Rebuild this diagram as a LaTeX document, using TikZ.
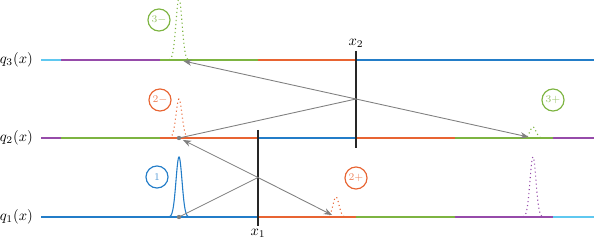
\documentclass[tikz,border=0pt]{standalone}
\usepackage{amsmath,amssymb}
\usepackage{xcolor}
\usepackage{tikz}
\usetikzlibrary{arrows.meta,calc}
\definecolor{wcyan}{RGB}{95,200,240}
\definecolor{wpurple}{RGB}{150,75,170}
\definecolor{wgreen}{RGB}{125,180,65}
\definecolor{worange}{RGB}{232,100,50}
\definecolor{wblue}{RGB}{35,125,200}

\begin{document}
\begin{tikzpicture}[x=0.024cm,y=-0.024cm,>=Stealth,
  seg/.style={line width=1pt},
  bar/.style={line width=2pt,black!85},
  ray/.style={gray,line width=0.6pt,shorten >=3pt},
  tag/.style={circle,draw,thick,minimum size=0.53cm,inner sep=0pt,font=\scriptsize},
  dotm/.style={circle,fill=gray,inner sep=0pt,minimum size=3pt}]
\clip (0,0) rectangle (594,247);
% the three strings
\node[anchor=east] (q3) at (38,60) {$q_3(x)$};
\node[anchor=east] (q2) at (38,138) {$q_2(x)$};
\node[anchor=east] (q1) at (38,217) {$q_1(x)$};
\foreach \a/\b/\c in {41/61/wcyan,61/160/wpurple,160/258/wgreen,258/356/worange,356/594/wblue}
  \draw[seg,\c] (\a,60) -- (\b,60);
\foreach \a/\b/\c in {41/61/wpurple,61/160/wgreen,160/258/worange,258/356/wblue,356/455/worange,455/553/wgreen,553/594/wpurple}
  \draw[seg,\c] (\a,138) -- (\b,138);
\foreach \a/\b/\c in {41/258/wblue,258/356/worange,356/455/wgreen,455/553/wpurple,553/594/wcyan}
  \draw[seg,\c] (\a,217) -- (\b,217);
% pulses
\foreach \px/\py/\h/\c/\s in {179/217/60/wblue/solid,179/138/39/worange/dotted,179/60/62/wgreen/dotted,
    336/217/20/worange/dotted,533/138/11/wgreen/dotted,533/217/60/wpurple/dotted}
  \draw[\c,\s,line width=0.75pt] plot[domain=-10:10,samples=51] ({\px+\x},{\py-\h*exp(-((\x)*(\x))/18)});
% interfaces
\draw[bar] (258,130) coordinate (b1t) -- (258,226) coordinate (b1b);
\node[anchor=north,inner sep=2pt] (x1) at (b1b) {$x_1$};
\draw[bar] (356,51) coordinate (b2t) -- (356,148) coordinate (b2b);
\node[anchor=south,inner sep=2pt] (x2) at (b2t) {$x_2$};
% rays
\coordinate (p1) at (179,217);
\coordinate (h1) at (258,177.5);
\coordinate (r2) at (179,138);
\coordinate (t2) at (336,217);
\coordinate (h2) at (356,99);
\coordinate (r3) at (179,60);
\coordinate (t3) at (533,138);
\draw[ray,shorten >=0pt] (p1) -- (h1);
\draw[ray,->] (h1) -- (r2);
\draw[ray,->] (h1) -- (t2);
\draw[ray,shorten >=0pt] (r2) -- (h2);
\draw[ray,->] (h2) -- (r3);
\draw[ray,->] (h2) -- (t3);
\node[dotm] (d1) at (p1) {};
\node[dotm] (d2) at (r2) {};
% labels
\node[tag,wblue,text=wblue!80] (n1) at (157,177) {$1$};
\node[tag,worange,text=worange!80] (n2m) at (160,100) {$2-$};
\node[tag,wgreen,text=wgreen!80] (n3m) at (159,20) {$3-$};
\node[tag,worange,text=worange!80] (n2p) at (356,178) {$2+$};
\node[tag,wgreen,text=wgreen!80] (n3p) at (553,100) {$3+$};
\end{tikzpicture}
\end{document}
